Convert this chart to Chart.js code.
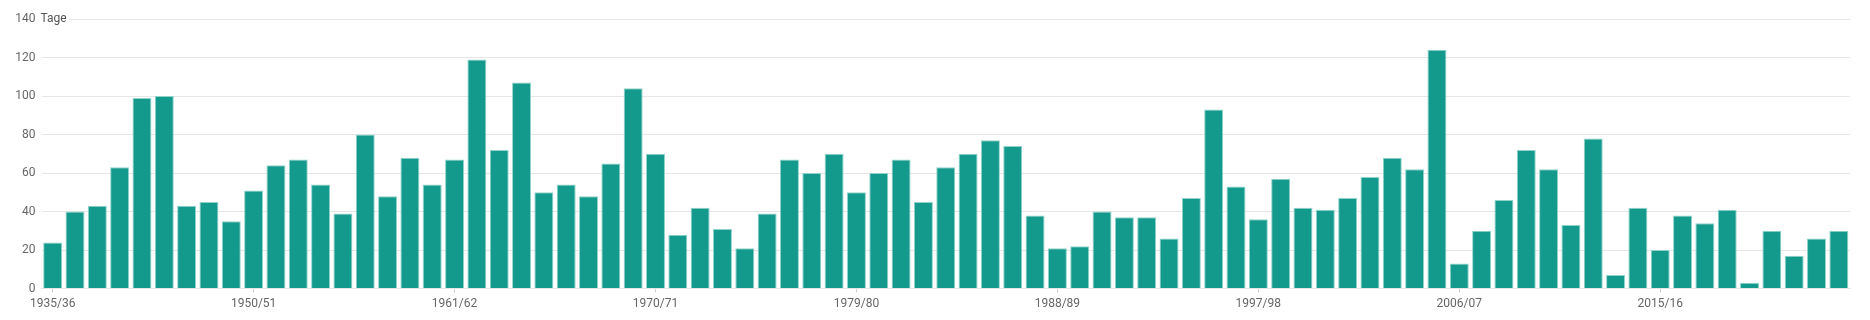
<!DOCTYPE html>
<html>
<head>
<meta charset="utf-8">
<script src="https://cdn.jsdelivr.net/npm/chart.js@4/dist/chart.umd.min.js"></script>
<style>
html,body{margin:0;padding:0;background:#fff;}
#wrap{width:1870px;height:320px;position:relative;}
</style>
</head>
<body>
<div id="wrap"><canvas id="c" width="1870" height="320"></canvas></div>
<script>
const winters = [
  "1935/36","1936/37","1937/38","1938/39","1939/40","1940/41","1947/48","1948/49","1949/50",
  "1950/51","1951/52","1952/53","1953/54","1954/55","1955/56","1956/57","1957/58","1960/61",
  "1961/62","1962/63","1963/64","1964/65","1965/66","1966/67","1967/68","1968/69","1969/70",
  "1970/71","1971/72","1972/73","1973/74","1974/75","1975/76","1976/77","1977/78","1978/79",
  "1979/80","1980/81","1981/82","1982/83","1983/84","1984/85","1985/86","1986/87","1987/88",
  "1988/89","1989/90","1990/91","1991/92","1992/93","1993/94","1994/95","1995/96","1996/97",
  "1997/98","1998/99","1999/00","2000/01","2001/02","2002/03","2003/04","2004/05","2005/06",
  "2006/07","2007/08","2008/09","2009/10","2010/11","2011/12","2012/13","2013/14","2014/15",
  "2015/16","2016/17","2017/18","2018/19","2019/20","2020/21","2021/22","2022/23","2023/24"
];
const snowDays = [
  24,40,43,63,99,100,43,45,35,
  51,64,67,54,39,80,48,68,54,
  67,119,72,107,50,54,48,65,104,
  70,28,42,31,21,39,67,60,70,
  50,60,67,45,63,70,77,74,38,
  21,22,40,37,37,26,47,93,53,
  36,57,42,41,47,58,68,62,124,
  13,30,46,72,62,33,78,7,42,
  20,38,34,41,3,30,17,26,30
];
const yTicks = [0,20,40,60,80,100,120,140];
const unitLabel = "Tage";
const labelEvery = 9;

const FONT = "'Liberation Sans Narrow', 'Roboto', sans-serif";
const TXT = '#666';
const GRID = '#e6e6e6';

const unitPlugin = {
  id: 'unitLabel',
  afterDraw(chart) {
    const ys = chart.scales.y;
    const ctx = chart.ctx;
    const y = ys.getPixelForValue(yTicks[yTicks.length - 1]);
    ctx.save();
    ctx.font = '12px ' + FONT;
    const w = ctx.measureText(unitLabel).width;
    const x = chart.chartArea.left - 1;
    ctx.fillStyle = '#fff';
    ctx.fillRect(x - 1, y - 7, w + 3, 14);
    ctx.fillStyle = '#555';
    ctx.textBaseline = 'middle';
    ctx.textAlign = 'left';
    ctx.fillText(unitLabel, x, y);
    ctx.restore();
  }
};

new Chart(document.getElementById('c'), {
  type: 'bar',
  data: {
    labels: winters,
    datasets: [{
      data: snowDays,
      backgroundColor: '#139a8c',
      borderColor: '#8fd3ca',
      borderWidth: {top: 1, left: 1, right: 1, bottom: 0},
      barPercentage: 0.85,
      categoryPercentage: 1.0
    }]
  },
  options: {
    responsive: false,
    animation: false,
    devicePixelRatio: 1,
    layout: { padding: { top: 19, right: 20, bottom: 5, left: 0 } },
    plugins: { legend: { display: false }, tooltip: { enabled: false } },
    scales: {
      x: {
        grid: {
          offset: false,
          drawOnChartArea: false,
          drawTicks: true,
          tickLength: 4,
          color: (ctx) => (ctx.index % labelEvery === 0 ? '#d0d0d0' : 'rgba(0,0,0,0)')
        },
        border: { display: true, color: GRID },
        ticks: {
          autoSkip: false,
          maxRotation: 0,
          minRotation: 0,
          padding: 4,
          color: TXT,
          font: { family: FONT, size: 12 },
          callback: function(v, i) { return i % labelEvery === 0 ? winters[i] : ''; }
        }
      },
      y: {
        min: 0,
        max: 140,
        afterFit(scale) { scale.width = 41.5; },
        afterBuildTicks(scale) { scale.ticks = yTicks.map(v => ({ value: v })); },
        grid: { color: GRID, drawTicks: false, lineWidth: 1 },
        border: { display: false },
        ticks: {
          padding: 6,
          color: TXT,
          font: { family: FONT, size: 12 }
        }
      }
    }
  },
  plugins: [unitPlugin]
});
</script>
</body>
</html>
